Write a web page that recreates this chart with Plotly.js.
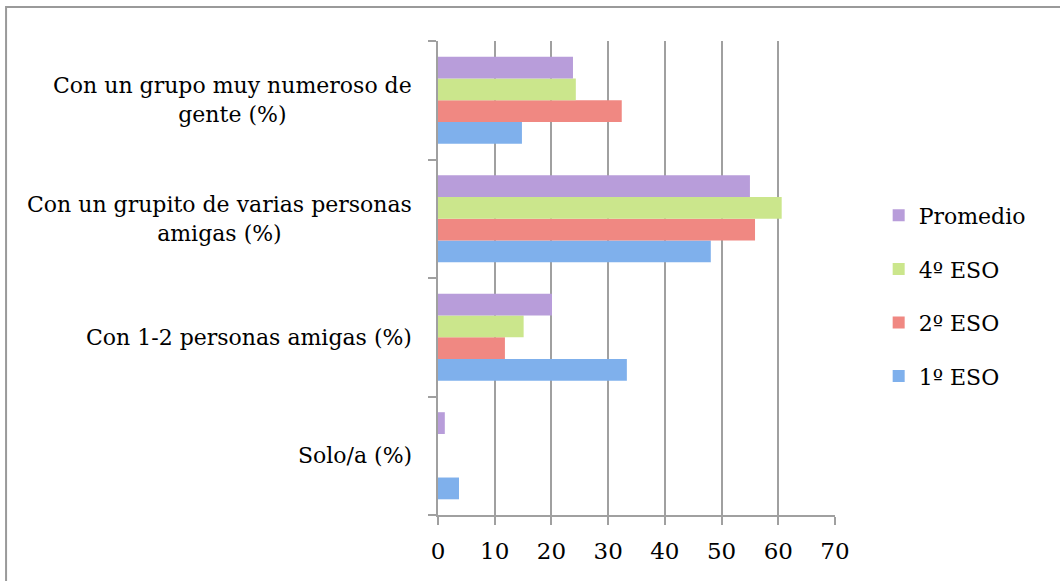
<!DOCTYPE html>
<html>
<head>
<meta charset="utf-8">
<script src="https://cdn.plot.ly/plotly-3.0.1.min.js"></script>
<style>
  body { margin: 0; background: #fff; }
  #myDiv { width: 1060px; height: 581px; }
</style>
</head>
<body>
<div id="myDiv"></div>
<script>
// categorias de abajo hacia arriba
let categorias = [
    "Solo/a (%)",
    "Con 1-2 personas amigas (%)",
    "Con un grupito de varias personas amigas (%)",
    "Con un grupo muy numeroso de gente (%)"
];
let etiquetas = [
    "Solo/a (%)",
    "Con 1-2 personas amigas (%)",
    "Con un grupito de varias personas<br>amigas (%)",
    "Con un grupo muy numeroso de<br>gente (%)"
];

let primero = [3.7, 33.3, 48.1, 14.8];
let segundo = [0, 11.8, 55.9, 32.4];
let cuarto = [0, 15.1, 60.6, 24.3];
let promedio = [1.2, 20.1, 55.0, 23.8];

let series = [
    { nombre: "1º ESO", valores: primero, color: "#7fb0ec", rango: 4 },
    { nombre: "2º ESO", valores: segundo, color: "#f08882", rango: 3 },
    { nombre: "4º ESO", valores: cuarto, color: "#cbe68c", rango: 2 },
    { nombre: "Promedio", valores: promedio, color: "#b89dda", rango: 1 }
];

let fuente = "DejaVu Serif, serif";

var data = series.map((s, i) => ({
    type: 'bar',
    orientation: 'h',
    name: s.nombre,
    x: s.valores,
    y: categorias,
    legendgroup: 'g' + i,
    legendrank: s.rango,
    marker: { color: s.color },
    hoverinfo: 'x+name'
}));

var anotaciones = categorias.map((c, i) => ({
    xref: 'paper',
    yref: 'y',
    x: 0,
    y: c,
    xanchor: 'right',
    yanchor: 'middle',
    xshift: -24,
    align: 'center',
    showarrow: false,
    text: etiquetas[i],
    font: { family: fuente, size: 22, color: '#000' }
}));

var layout = {
    barmode: 'group',
    bargap: 0.265,
    bargroupgap: 0,
    width: 1060,
    height: 581,
    margin: { l: 438, r: 225, t: 41, b: 66 },
    font: { family: fuente, size: 22, color: '#000' },
    xaxis: {
        range: [0, 70],
        dtick: 10,
        tick0: 0,
        showgrid: true,
        gridcolor: '#a0a0a0',
        gridwidth: 2,
        zeroline: false,
        showline: true,
        linecolor: '#a0a0a0',
        linewidth: 2,
        ticks: 'outside',
        ticklen: 8,
        tickwidth: 2,
        tickcolor: '#a0a0a0',
        ticklabelstandoff: 6,
        tickfont: { family: fuente, size: 23, color: '#000' },
        fixedrange: true
    },
    yaxis: {
        type: 'category',
        categoryorder: 'array',
        categoryarray: categorias,
        showticklabels: false,
        showline: true,
        linecolor: '#a0a0a0',
        linewidth: 2,
        ticks: 'outside',
        tickson: 'boundaries',
        ticklen: 8,
        tickwidth: 2,
        tickcolor: '#a0a0a0',
        showgrid: false,
        fixedrange: true
    },
    legend: {
        x: 1.11,
        y: 0.462,
        xanchor: 'left',
        yanchor: 'middle',
        traceorder: 'grouped',
        tracegroupgap: 22,
        font: { family: fuente, size: 22, color: '#000' },
        itemwidth: 30
    },
    annotations: anotaciones,
    shapes: [{
        type: 'rect',
        xref: 'paper',
        yref: 'paper',
        x0: -1.088,
        x1: 1.7,
        y0: -0.3,
        y1: 1.0717,
        line: { color: '#9a9a9a', width: 2 },
        fillcolor: 'rgba(0,0,0,0)',
        layer: 'below'
    }],
    plot_bgcolor: '#fff',
    paper_bgcolor: '#fff'
};

Plotly.newPlot('myDiv', data, layout, { displayModeBar: false, staticPlot: true });
</script>
</body>
</html>
